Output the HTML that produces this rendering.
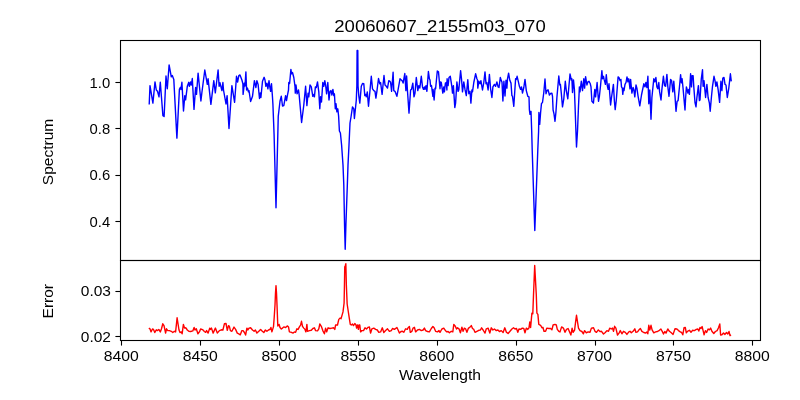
<!DOCTYPE html>
<html><head><meta charset="utf-8"><title>20060607_2155m03_070</title>
<style>
html,body{margin:0;padding:0;background:#fff;}
body{width:800px;height:400px;overflow:hidden;font-family:"Liberation Sans",sans-serif;}
svg{display:block;}
text{font-family:"Liberation Sans",sans-serif;fill:#000;}
</style></head><body>
<svg width="800" height="400" viewBox="0 0 800 400">
<rect x="0" y="0" width="800" height="400" fill="#ffffff"/>
<g fill="none" stroke-linejoin="round" stroke-linecap="butt">
<polyline stroke="#0000ff" stroke-width="1.4" points="149.2,104.5 150.0,85.6 152.9,103.1 155.0,81.9 156.3,90.0 157.5,91.3 159.0,96.9 160.3,82.3 162.9,115.6 164.1,116.5 166.0,76.0 167.3,88.8 169.1,65.0 171.3,76.9 172.3,75.6 173.8,79.4 176.9,138.1 179.4,89.4 180.3,87.5 181.0,89.5 181.9,82.3 183.5,111.0 184.8,95.6 185.6,99.8 187.3,86.3 188.8,82.3 189.4,86.3 190.6,81.9 191.3,85.0 192.3,78.5 194.0,109.4 195.6,87.5 196.5,94.4 198.1,73.1 200.9,101.0 201.9,92.5 204.8,70.0 207.3,84.4 208.1,78.8 210.9,104.4 213.8,80.6 215.3,92.8 218.1,70.0 219.1,86.3 220.0,82.8 221.9,90.6 222.9,82.5 223.5,90.0 226.0,104.0 227.1,95.6 229.0,128.5 231.9,85.6 234.6,102.3 236.5,76.3 237.6,82.0 238.8,75.6 240.0,75.0 241.9,80.0 242.9,83.8 243.1,94.4 244.4,83.1 245.0,86.0 245.9,71.9 246.6,90.0 247.5,88.1 248.4,91.9 249.0,90.6 250.6,101.5 252.5,96.3 254.4,80.6 255.9,87.5 256.9,80.6 258.1,84.4 259.5,98.5 260.3,93.0 260.9,97.5 262.5,81.3 264.1,77.3 265.0,80.0 265.9,86.3 266.9,83.1 267.9,88.8 269.0,80.6 269.8,86.9 270.6,91.3 271.5,83.8 272.5,97.5 272.9,104.0 273.6,122.0 274.1,135.0 276.0,207.8 277.8,135.0 278.25,116.3 279.1,109.0 280.0,101.3 281.3,96.3 282.5,106.0 283.8,105.6 285.6,95.6 286.5,100.6 287.5,95.0 288.5,90.0 288.8,82.5 289.6,83.5 290.9,69.4 291.6,73.8 292.5,72.5 293.8,77.5 295.0,86.3 295.3,93.1 296.0,85.0 297.1,93.8 298.5,90.0 299.1,94.4 301.6,122.5 303.8,105.0 305.6,86.3 306.9,105.6 308.1,93.1 308.8,96.9 310.0,85.0 311.3,86.9 312.8,96.3 313.5,94.4 314.4,96.9 315.4,86.9 316.3,87.5 317.5,81.9 318.8,91.9 319.8,108.8 320.6,96.8 321.5,102.0 322.8,82.5 323.8,86.3 324.8,80.6 325.6,85.0 326.6,93.8 327.8,82.5 329.0,100.0 330.0,91.3 331.0,90.6 331.9,95.0 332.9,89.4 333.8,95.6 334.4,93.8 335.3,108.8 336.0,103.8 336.9,111.9 337.8,108.8 338.6,116.0 339.4,131.0 340.4,133.0 341.6,145.0 343.0,165.0 343.8,185.0 344.55,225.0 345.2,249.2 345.9,225.0 347.3,186.0 348.0,165.0 349.0,145.0 350.0,123.0 351.0,117.0 352.5,106.9 353.8,108.8 354.4,118.5 355.6,107.0 356.3,100.0 356.85,86.0 357.1,50.4 357.8,50.4 358.05,86.0 358.8,96.0 359.8,103.1 361.3,86.3 362.5,83.5 363.8,83.8 364.8,95.6 365.6,94.4 366.3,96.9 367.3,91.9 368.5,106.3 369.8,92.5 371.3,76.3 372.5,88.8 373.8,90.6 375.0,91.3 375.9,98.1 376.9,91.3 378.5,78.5 379.8,83.8 380.6,82.5 382.1,94.4 382.9,86.3 384.0,75.5 385.0,85.0 386.3,86.3 387.5,88.1 388.8,80.6 390.0,81.3 390.6,82.5 391.6,91.3 393.1,72.3 393.8,90.6 395.0,91.3 396.9,96.3 400.0,78.8 401.3,80.0 402.5,81.3 403.1,83.1 404.8,73.5 405.9,90.6 406.6,76.0 407.5,91.3 409.0,113.1 410.6,90.0 411.5,89.4 412.8,83.1 414.0,96.9 415.0,93.0 416.3,77.5 417.8,90.6 418.8,85.6 419.8,88.1 421.3,76.3 422.5,86.9 423.5,89.4 424.4,86.9 425.0,89.4 426.0,85.6 426.9,91.3 428.4,71.5 429.4,78.8 430.0,80.0 430.6,86.3 431.5,85.6 432.9,96.3 433.1,89.4 434.1,100.0 435.0,88.1 435.6,88.8 437.3,71.0 438.5,71.9 440.0,88.8 440.6,81.9 441.3,82.5 442.8,93.1 443.8,86.9 444.4,91.9 445.4,83.1 446.3,82.5 446.9,90.0 447.1,78.8 448.1,85.6 449.0,77.5 450.3,76.3 451.9,86.9 452.5,93.1 453.4,85.6 454.8,107.5 455.6,103.1 456.9,81.9 458.1,91.3 458.8,90.0 460.6,70.6 461.5,78.8 462.5,91.9 463.8,81.9 465.0,89.4 466.3,95.6 467.8,79.8 468.8,93.8 470.0,91.3 470.9,103.1 471.9,90.0 472.5,91.9 473.8,82.5 475.6,73.8 476.9,78.8 477.5,80.0 477.8,88.1 478.8,81.3 480.0,83.8 480.9,80.6 482.5,90.0 483.8,82.5 485.0,71.9 486.0,83.8 486.9,82.5 488.1,90.0 489.4,74.4 490.6,88.8 491.9,97.5 492.9,86.9 494.4,84.4 495.6,86.3 496.9,81.9 498.1,86.9 499.0,87.5 500.3,77.5 501.3,80.6 502.0,82.2 502.9,101.0 503.9,81.3 505.0,96.0 506.0,80.3 506.9,88.1 507.5,79.0 508.6,73.1 509.8,80.3 511.0,83.1 511.9,95.6 512.5,96.3 513.8,106.3 515.6,78.8 516.3,79.4 517.1,76.3 518.4,81.9 519.4,86.3 520.6,89.4 521.5,86.9 522.5,93.1 523.8,87.5 525.0,79.4 526.3,90.6 527.8,96.3 529.0,96.9 529.4,110.0 530.0,114.4 531.0,111.3 531.7,131.3 532.2,150.0 534.8,230.5 537.8,150.0 538.6,131.3 538.9,112.5 539.7,124.4 540.6,112.5 541.5,103.4 542.5,102.5 543.8,92.5 545.0,79.0 546.0,93.8 546.9,90.6 548.1,89.8 549.4,95.0 550.6,93.5 551.9,93.1 552.5,96.3 553.1,110.0 554.0,113.8 555.0,121.3 555.9,112.5 556.9,97.5 558.8,76.0 559.8,85.0 560.4,84.4 561.3,93.1 562.5,106.9 563.8,98.8 565.3,81.3 566.3,90.6 567.8,98.8 570.0,74.0 571.3,80.0 571.9,78.8 572.5,92.5 573.5,80.0 574.4,89.4 575.0,105.0 575.7,125.0 576.5,147.0 577.5,131.3 578.5,106.3 579.4,86.9 580.0,91.9 581.3,81.3 582.5,90.6 583.8,78.8 584.6,88.1 585.6,76.6 586.9,85.0 587.9,81.9 589.0,81.3 590.3,83.8 591.0,86.9 591.9,101.3 593.4,103.1 594.8,89.4 595.6,96.9 597.1,82.5 598.5,101.3 599.4,96.3 600.6,85.0 601.9,70.6 602.5,78.8 603.5,76.3 604.1,79.4 604.8,81.9 605.4,84.4 606.3,74.8 607.3,85.6 608.1,89.4 609.0,83.8 610.6,105.0 611.5,97.5 613.4,84.4 614.4,101.3 615.2,109.6 616.3,100.0 618.1,76.9 619.0,77.5 620.0,80.6 620.9,79.4 621.5,86.9 622.3,88.1 622.8,94.4 623.5,88.1 624.0,90.6 625.0,84.4 626.0,82.5 627.0,76.9 627.9,81.9 628.8,78.8 629.4,83.8 630.0,88.8 630.6,79.4 631.9,93.1 633.1,87.5 633.8,89.4 634.8,96.9 636.0,85.0 636.9,88.1 638.1,96.3 639.8,105.8 641.5,95.0 643.8,83.8 645.0,86.9 645.9,82.5 646.9,87.5 647.9,76.3 648.8,103.8 649.8,90.0 651.0,119.3 651.9,97.5 653.8,78.8 654.8,81.9 655.9,77.5 656.9,86.9 657.8,88.8 658.8,82.5 659.6,91.9 661.0,100.0 661.9,89.4 663.4,76.3 664.6,85.6 665.6,86.3 666.9,74.4 667.8,86.3 669.0,96.3 670.6,79.4 671.6,80.6 672.8,91.9 673.8,81.3 675.0,96.3 676.0,111.3 677.1,101.3 678.1,100.6 679.4,87.5 680.6,74.6 681.4,82.8 682.1,78.8 683.1,88.8 684.4,103.4 685.0,110.0 685.6,98.5 686.4,86.9 687.3,90.0 687.9,93.1 688.8,89.4 689.4,94.4 690.6,73.8 691.5,86.9 692.1,75.6 693.1,75.6 693.8,86.9 695.0,102.5 696.0,106.9 696.9,97.5 698.4,85.6 699.4,100.6 700.0,100.0 701.3,78.8 702.5,69.8 703.1,86.3 704.0,80.6 705.6,97.5 706.9,84.4 708.1,97.5 709.4,103.1 710.2,111.3 711.5,96.3 712.5,86.3 714.0,76.3 715.0,80.6 715.9,86.3 716.9,81.9 718.1,89.4 719.6,102.4 720.9,81.3 721.9,90.6 722.8,78.1 724.0,77.5 725.0,84.4 726.0,85.0 727.3,97.5 728.8,88.1 730.4,73.8 731.3,81.3"/>
<polyline stroke="#ff0000" stroke-width="1.4" points="148.8,328.1 150.0,328.8 151.0,331.9 152.5,329.0 153.5,329.4 154.8,332.5 156.3,329.8 157.5,330.6 158.8,329.4 160.3,331.9 161.5,328.8 162.8,323.8 164.0,325.6 165.6,333.1 166.5,328.8 167.8,330.6 169.4,330.6 171.3,331.3 172.8,332.5 174.4,331.3 175.6,331.9 177.1,317.8 179.0,330.0 180.0,332.5 181.3,331.9 182.1,333.8 183.4,324.4 184.6,328.1 185.9,327.8 187.3,330.0 188.8,331.3 190.6,331.5 192.8,330.9 194.1,327.5 195.0,330.0 196.3,328.8 197.9,333.8 199.4,331.9 200.6,329.0 202.5,329.6 204.4,331.5 205.6,332.3 206.6,330.6 208.1,333.1 209.8,328.1 210.6,329.4 211.5,328.1 213.1,333.1 215.4,328.1 217.3,333.1 219.4,330.6 221.3,329.8 222.9,330.0 224.4,323.8 226.0,323.5 227.3,330.3 228.5,325.6 229.4,326.3 230.4,330.6 231.9,331.3 234.0,327.1 235.6,329.4 237.3,333.1 238.8,333.8 240.3,334.8 241.9,330.6 243.1,330.6 244.4,332.5 245.6,335.0 246.9,328.1 247.9,330.0 249.0,328.1 250.6,327.8 252.5,330.0 254.1,331.3 255.4,330.0 256.9,333.1 258.8,331.3 260.6,329.4 262.3,331.3 263.8,332.5 265.4,330.0 266.9,331.3 268.5,330.0 270.0,329.4 270.9,327.5 271.9,331.9 273.5,326.6 274.2,317.5 275.0,305.0 275.5,293.0 276.0,285.6 276.5,293.0 277.05,306.0 277.8,326.0 279.1,324.4 280.0,327.5 281.3,329.0 282.5,328.1 283.8,326.9 285.6,327.5 287.5,325.9 288.5,326.9 289.4,331.9 291.3,332.3 293.1,333.1 294.4,331.9 295.6,332.3 296.9,328.8 298.1,329.4 299.4,326.9 300.6,325.0 301.5,321.3 302.5,326.3 303.8,328.1 305.0,329.4 305.9,331.9 306.9,324.4 307.5,331.3 309.4,330.6 311.3,330.3 312.9,328.5 314.4,327.8 315.6,330.6 317.5,330.9 318.8,328.8 319.8,324.0 321.3,326.3 322.8,330.6 324.4,333.8 325.6,328.1 326.6,331.9 328.1,327.8 330.0,328.5 331.9,328.1 333.5,327.8 334.8,329.4 335.6,325.0 337.5,325.0 338.8,319.4 340.0,318.1 341.0,318.8 342.3,314.4 343.0,311.9 344.1,303.0 344.45,285.0 344.75,266.8 345.3,265.8 345.85,263.7 346.35,285.0 347.15,304.0 348.5,313.0 349.4,318.8 350.3,324.4 351.3,325.0 352.5,324.0 353.5,325.6 354.8,323.5 356.0,325.0 356.6,328.1 357.5,325.0 358.4,329.4 359.0,325.0 359.8,325.0 360.6,331.9 361.9,330.6 363.5,330.6 365.0,327.8 366.5,329.0 368.1,327.3 369.4,326.9 370.6,333.1 371.9,328.8 373.8,328.1 375.6,329.4 377.3,330.0 378.8,332.3 380.6,331.9 382.3,327.8 383.8,332.5 385.6,330.6 387.5,328.8 389.4,331.3 391.3,330.6 392.5,328.5 394.4,329.4 396.9,327.5 398.1,330.0 399.4,333.1 401.0,331.5 402.5,331.3 403.8,332.3 405.6,328.8 407.3,329.4 408.1,327.8 409.4,326.5 410.3,332.3 411.9,331.3 413.1,328.1 414.4,327.3 415.6,331.9 417.5,330.0 419.4,329.4 421.3,330.6 423.1,330.0 424.4,328.1 425.6,330.6 427.5,331.5 429.4,331.9 431.3,328.5 432.9,326.5 434.1,327.8 435.6,331.3 437.5,331.9 439.0,330.6 440.0,332.3 441.9,329.0 443.8,328.1 445.0,330.0 446.6,331.9 448.1,331.5 449.4,332.8 451.3,331.3 452.8,331.9 453.8,324.4 455.3,326.3 456.5,329.0 457.5,327.8 459.0,328.8 460.4,332.8 461.9,327.3 463.1,331.3 464.4,328.1 465.6,328.8 466.9,332.3 468.5,328.1 469.8,327.3 471.3,325.6 472.5,328.5 473.8,329.4 475.0,332.3 476.9,331.3 478.8,330.3 480.4,330.0 481.6,327.8 483.1,330.0 485.0,333.1 486.3,328.8 488.1,328.1 489.8,333.1 491.3,327.8 492.9,330.0 494.4,329.0 496.3,330.6 497.9,330.0 499.4,331.5 501.3,330.6 503.1,332.6 504.8,327.8 506.3,332.1 508.1,333.5 510.0,331.3 511.9,329.0 513.5,327.8 515.0,329.0 516.5,328.5 517.8,332.3 519.0,329.0 520.6,329.4 522.3,328.1 523.8,328.5 525.0,332.8 526.3,328.1 527.8,329.4 529.0,327.8 529.8,321.9 530.6,327.5 531.9,313.1 532.8,313.8 533.5,295.0 534.7,265.5 536.3,295.0 536.9,313.1 537.9,314.4 538.8,324.4 540.6,325.3 541.9,327.8 542.9,327.3 544.0,331.3 545.6,331.3 546.9,328.1 548.8,328.5 550.6,328.5 551.9,329.8 553.1,325.0 555.0,324.4 556.3,325.0 557.3,329.4 558.8,331.3 560.0,331.9 561.6,326.9 563.4,328.1 565.0,332.3 566.5,329.4 568.1,328.5 569.8,332.5 570.9,335.0 572.1,328.1 573.1,332.3 574.6,330.0 575.6,321.9 576.5,315.3 577.5,321.9 578.5,328.1 580.0,330.6 581.9,331.5 583.4,333.8 584.6,330.6 586.3,332.8 588.1,331.9 590.0,332.3 591.4,328.1 593.5,327.8 595.0,331.3 596.5,332.3 598.3,329.9 600.0,331.6 601.5,331.3 603.5,334.0 605.3,332.5 606.9,330.6 608.5,331.3 609.8,328.1 611.3,329.0 612.5,328.1 613.5,331.3 614.6,326.3 615.9,328.1 617.5,335.0 619.0,333.1 620.3,330.6 621.9,333.8 623.5,331.3 625.3,332.3 626.9,334.4 628.8,331.9 630.0,331.3 631.3,332.8 633.1,331.3 634.8,328.8 635.9,332.3 637.5,331.9 639.0,329.8 640.4,328.5 641.9,331.3 643.8,332.5 645.6,333.1 646.9,331.9 647.8,333.8 648.8,325.3 649.8,330.0 651.0,325.3 652.1,329.8 653.8,332.8 655.6,331.9 657.5,331.5 659.4,330.3 660.9,329.0 662.5,331.9 663.5,334.0 664.8,331.5 666.0,333.1 667.8,329.0 669.4,331.3 671.3,332.8 673.1,334.4 675.0,328.8 676.9,329.0 678.5,330.6 680.3,331.9 681.6,332.5 682.8,334.8 684.0,327.8 685.3,327.5 686.3,332.8 687.8,331.1 689.4,330.3 691.0,332.3 692.5,330.3 694.4,330.6 696.3,329.4 697.8,329.0 698.8,331.0 700.0,327.5 701.0,328.5 702.1,326.5 703.1,330.6 704.1,334.8 705.4,330.6 706.6,332.5 708.1,329.0 709.4,329.8 710.6,328.1 711.9,331.3 713.8,333.5 715.4,331.5 717.1,330.6 718.5,327.8 719.8,324.0 720.6,335.0 721.9,334.8 723.5,333.1 725.0,334.4 726.5,332.5 727.8,334.0 729.0,331.5 730.0,335.6 731.0,334.8"/>
</g>
<g fill="none" stroke="#000" stroke-width="1.1" shape-rendering="auto">
<rect x="120.5" y="40.5" width="640" height="220"/>
<rect x="120.5" y="260.5" width="640" height="80"/>
<line x1="121.50" y1="340.5" x2="121.50" y2="345.6"/>
<line x1="200.50" y1="340.5" x2="200.50" y2="345.6"/>
<line x1="279.50" y1="340.5" x2="279.50" y2="345.6"/>
<line x1="358.50" y1="340.5" x2="358.50" y2="345.6"/>
<line x1="437.50" y1="340.5" x2="437.50" y2="345.6"/>
<line x1="516.50" y1="340.5" x2="516.50" y2="345.6"/>
<line x1="595.50" y1="340.5" x2="595.50" y2="345.6"/>
<line x1="673.50" y1="340.5" x2="673.50" y2="345.6"/>
<line x1="752.50" y1="340.5" x2="752.50" y2="345.6"/>
<line x1="115.4" y1="82.50" x2="120.5" y2="82.50"/>
<line x1="115.4" y1="128.50" x2="120.5" y2="128.50"/>
<line x1="115.4" y1="175.50" x2="120.5" y2="175.50"/>
<line x1="115.4" y1="221.50" x2="120.5" y2="221.50"/>
<line x1="115.4" y1="291.50" x2="120.5" y2="291.50"/>
<line x1="115.4" y1="336.50" x2="120.5" y2="336.50"/>
</g>
<g style="opacity:0.999">
<text x="121.30" y="361.00" font-size="13.90" text-anchor="middle" textLength="35.00" lengthAdjust="spacingAndGlyphs">8400</text>
<text x="200.18" y="361.00" font-size="13.90" text-anchor="middle" textLength="35.00" lengthAdjust="spacingAndGlyphs">8450</text>
<text x="279.05" y="361.00" font-size="13.90" text-anchor="middle" textLength="35.00" lengthAdjust="spacingAndGlyphs">8500</text>
<text x="357.93" y="361.00" font-size="13.90" text-anchor="middle" textLength="35.00" lengthAdjust="spacingAndGlyphs">8550</text>
<text x="436.80" y="361.00" font-size="13.90" text-anchor="middle" textLength="35.00" lengthAdjust="spacingAndGlyphs">8600</text>
<text x="515.67" y="361.00" font-size="13.90" text-anchor="middle" textLength="35.00" lengthAdjust="spacingAndGlyphs">8650</text>
<text x="594.55" y="361.00" font-size="13.90" text-anchor="middle" textLength="35.00" lengthAdjust="spacingAndGlyphs">8700</text>
<text x="673.42" y="361.00" font-size="13.90" text-anchor="middle" textLength="35.00" lengthAdjust="spacingAndGlyphs">8750</text>
<text x="752.30" y="361.00" font-size="13.90" text-anchor="middle" textLength="35.00" lengthAdjust="spacingAndGlyphs">8800</text>
<text x="110.20" y="87.50" font-size="13.90" text-anchor="end" textLength="20.60" lengthAdjust="spacingAndGlyphs">1.0</text>
<text x="110.20" y="133.87" font-size="13.90" text-anchor="end" textLength="20.60" lengthAdjust="spacingAndGlyphs">0.8</text>
<text x="110.20" y="180.23" font-size="13.90" text-anchor="end" textLength="20.60" lengthAdjust="spacingAndGlyphs">0.6</text>
<text x="110.20" y="226.60" font-size="13.90" text-anchor="end" textLength="20.60" lengthAdjust="spacingAndGlyphs">0.4</text>
<text x="111.00" y="296.30" font-size="13.90" text-anchor="end" textLength="30.20" lengthAdjust="spacingAndGlyphs">0.03</text>
<text x="111.00" y="341.50" font-size="13.90" text-anchor="end" textLength="30.20" lengthAdjust="spacingAndGlyphs">0.02</text>
<text x="440.00" y="379.80" font-size="13.90" text-anchor="middle" textLength="82.00" lengthAdjust="spacingAndGlyphs">Wavelength</text>
<text x="440.00" y="31.80" font-size="16.70" text-anchor="middle" textLength="211.50" lengthAdjust="spacingAndGlyphs">20060607_2155m03_070</text>
<text transform="translate(52.8,152.0) rotate(-90)" font-size="13.90" text-anchor="middle" textLength="66.3" lengthAdjust="spacingAndGlyphs">Spectrum</text>
<text transform="translate(52.8,301.2) rotate(-90)" font-size="13.90" text-anchor="middle" textLength="34.5" lengthAdjust="spacingAndGlyphs">Error</text>
</g>
</svg>
</body></html>
